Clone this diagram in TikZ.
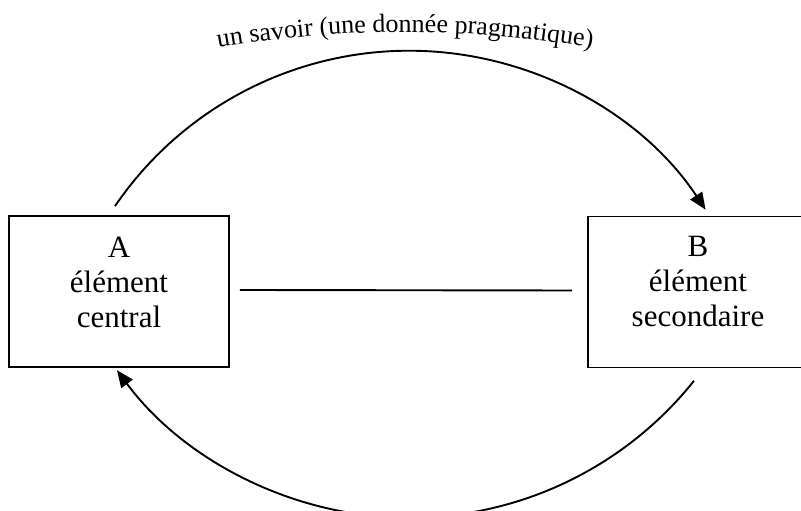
\documentclass[tikz,border=0pt]{standalone}
\usepackage{fontspec}
\setmainfont{Liberation Serif}
\usetikzlibrary{arrows.meta,decorations.text}
\newcommand{\boxfont}{\fontsize{31}{35}\selectfont}
\newcommand{\arcfont}{\fontsize{26}{30}\selectfont}
\begin{document}
\begin{tikzpicture}[x=1pt,y=1pt,
  elembox/.style={draw=black, line width=1.8pt, minimum width=220pt, minimum height=151pt, inner sep=0pt},
  lbl/.style={align=center, font=\boxfont, inner sep=0pt},
  link/.style={line width=1.9pt},
  flow/.style={line width=1.9pt, -{Triangle[length=17pt,width=14pt]}}]
\useasboundingbox (0,0) rectangle (801,511);
\node[elembox] (A) at (119,219.5) {};
\node[elembox] (B) at (698,219) {};
\node[lbl] (Atxt) at ([yshift=9.5]A.center) {A\\élément\\central};
\node[lbl] (Btxt) at ([yshift=10]B.center) {B\\élément\\secondaire};
\draw[link] ([shift={(10,1.5)}]A.east) -- ([shift={(-15,1.5)}]B.west);
\coordinate (topstart) at ([shift={(-4,9)}]A.north);
\draw[flow] (topstart) arc[start angle=145.7, end angle=33.6, radius=356pt];
\coordinate (botstart) at ([shift={(-4,-12.4)}]B.south);
\draw[flow] (botstart) arc[start angle=-38.6, end angle=-143.5, radius=364pt];
\coordinate (tstart) at (-19.5,393.8);
\path[decorate, decoration={text along path, text align=center,
  text={|\arcfont|un savoir (une donnée pragmatique)}}]
  (tstart) arc[start angle=112.7, end angle=67.3, radius=1100pt];
\end{tikzpicture}
\end{document}
